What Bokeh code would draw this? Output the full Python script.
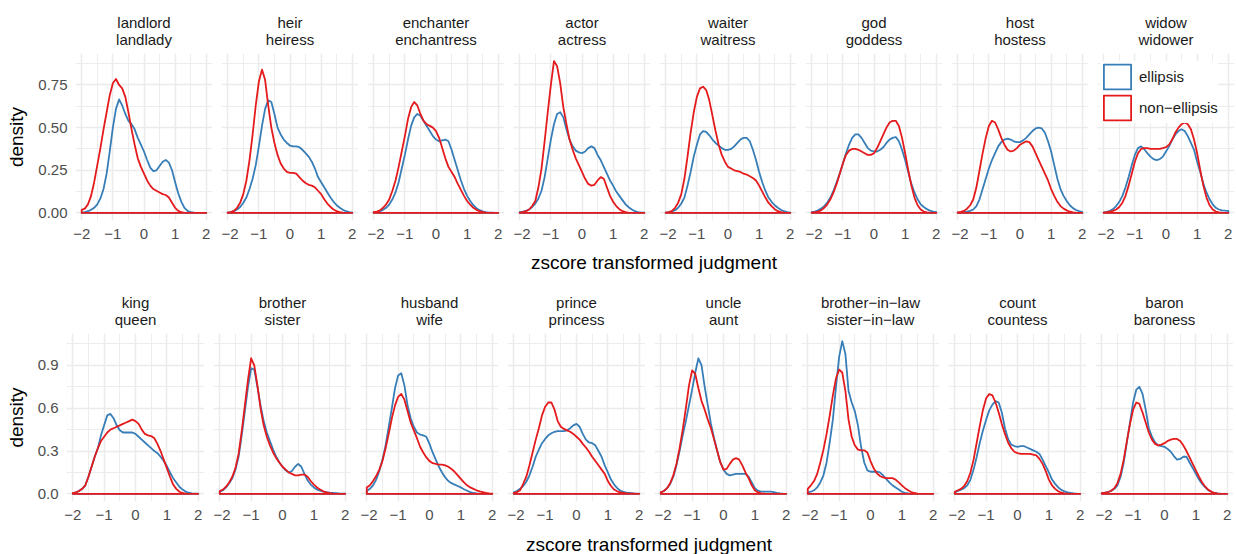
from bokeh.plotting import figure
from bokeh.layouts import row, column
from bokeh.models import Range1d, FixedTicker, Title, Legend, LegendItem, Div, Spacer
from bokeh.embed import file_html
from bokeh.resources import INLINE

FONT = "Liberation Sans"
BLUE = "#377EB8"
RED = "#E41A1C"
GRID = "#EBEBEB"

# ---------------- data ----------------
x_grid = [-2.0, -1.9, -1.8, -1.7, -1.6, -1.5, -1.4, -1.3, -1.2, -1.1,
          -1.0, -0.9, -0.8, -0.7, -0.6, -0.5, -0.4, -0.3, -0.2, -0.1,
          0.0, 0.1, 0.2, 0.3, 0.4, 0.5, 0.6, 0.7, 0.8, 0.9,
          1.0, 1.1, 1.2, 1.3, 1.4, 1.5, 1.6, 1.7, 1.8, 1.9, 2.0]
x_ticks = [-2, -1, 0, 1, 2]
x_tick_labels = ["\u22122", "\u22121", "0", "1", "2"]
x_minor = [-1.5, -0.5, 0.5, 1.5]

row1_ticks = [0, 0.25, 0.5, 0.75]
row1_tick_labels = ["0.00", "0.25", "0.50", "0.75"]
row1_minor = [0.125, 0.375, 0.625, 0.875]
row2_ticks = [0, 0.3, 0.6, 0.9]
row2_tick_labels = ["0.0", "0.3", "0.6", "0.9"]
row2_minor = [0.15, 0.45, 0.75, 1.05]

groups = ["ellipsis", "non\u2212ellipsis"]

row1_titles = [("landlord", "landlady"), ("heir", "heiress"), ("enchanter", "enchantress"),
               ("actor", "actress"), ("waiter", "waitress"), ("god", "goddess"),
               ("host", "hostess"), ("widow", "widower")]
row2_titles = [("king", "queen"), ("brother", "sister"), ("husband", "wife"),
               ("prince", "princess"), ("uncle", "aunt"),
               ("brother\u2212in\u2212law", "sister\u2212in\u2212law"),
               ("count", "countess"), ("baron", "baroness")]

landlord_ellipsis = [0.003, 0.005, 0.01, 0.018, 0.03, 0.05, 0.085, 0.14, 0.23, 0.36,
                     0.50, 0.61, 0.665, 0.63, 0.58, 0.54, 0.52, 0.49, 0.44, 0.40,
                     0.36, 0.31, 0.265, 0.245, 0.25, 0.275, 0.30, 0.31, 0.295, 0.25,
                     0.18, 0.115, 0.065, 0.03, 0.012, 0.004, 0.001, 0, 0, 0, 0]
landlord_non_ellipsis = [0.018, 0.025, 0.05, 0.10, 0.18, 0.28, 0.38, 0.49, 0.59, 0.69,
                         0.76, 0.785, 0.75, 0.73, 0.68, 0.59, 0.49, 0.40, 0.32, 0.27,
                         0.23, 0.19, 0.16, 0.14, 0.13, 0.12, 0.11, 0.105, 0.09, 0.06,
                         0.03, 0.012, 0.004, 0, 0, 0, 0, 0, 0, 0, 0]
heir_ellipsis = [0.002, 0.004, 0.01, 0.02, 0.035, 0.06, 0.09, 0.14, 0.2, 0.28,
                 0.39, 0.51, 0.61, 0.66, 0.65, 0.58, 0.50, 0.46, 0.43, 0.41,
                 0.395, 0.39, 0.39, 0.385, 0.37, 0.35, 0.33, 0.30, 0.26, 0.21,
                 0.18, 0.15, 0.12, 0.09, 0.065, 0.045, 0.03, 0.018, 0.01, 0.005, 0.002]
heir_non_ellipsis = [0.002, 0.005, 0.012, 0.03, 0.06, 0.11, 0.19, 0.31, 0.46, 0.63,
                     0.77, 0.84, 0.78, 0.63, 0.50, 0.41, 0.34, 0.29, 0.26, 0.24,
                     0.235, 0.235, 0.23, 0.21, 0.19, 0.175, 0.165, 0.16, 0.15, 0.13,
                     0.11, 0.08, 0.055, 0.035, 0.02, 0.01, 0.005, 0.002, 0, 0, 0]
enchanter_ellipsis = [0.004, 0.006, 0.01, 0.018, 0.03, 0.05, 0.08, 0.12, 0.18, 0.26,
                      0.34, 0.43, 0.51, 0.56, 0.58, 0.57, 0.54, 0.51, 0.48, 0.45,
                      0.43, 0.42, 0.425, 0.43, 0.42, 0.37, 0.31, 0.25, 0.19, 0.14,
                      0.10, 0.07, 0.045, 0.028, 0.016, 0.009, 0.005, 0.002, 0.001, 0, 0]
enchanter_non_ellipsis = [0.004, 0.008, 0.015, 0.03, 0.05, 0.08, 0.13, 0.19, 0.27, 0.36,
                          0.45, 0.55, 0.62, 0.65, 0.63, 0.58, 0.54, 0.52, 0.51, 0.50,
                          0.48, 0.44, 0.38, 0.32, 0.27, 0.24, 0.21, 0.17, 0.135, 0.10,
                          0.07, 0.048, 0.03, 0.018, 0.01, 0.005, 0.002, 0, 0, 0, 0]
actor_ellipsis = [0.004, 0.007, 0.012, 0.02, 0.035, 0.055, 0.085, 0.13, 0.21, 0.32,
                  0.43, 0.52, 0.58, 0.59, 0.56, 0.49, 0.43, 0.39, 0.365, 0.355,
                  0.35, 0.36, 0.38, 0.39, 0.38, 0.34, 0.31, 0.27, 0.23, 0.19,
                  0.16, 0.125, 0.10, 0.075, 0.05, 0.033, 0.02, 0.01, 0.005, 0.002, 0.001]
actor_non_ellipsis = [0.002, 0.004, 0.01, 0.02, 0.04, 0.07, 0.15, 0.26, 0.42, 0.59,
                      0.75, 0.89, 0.86, 0.76, 0.62, 0.52, 0.43, 0.37, 0.32, 0.28,
                      0.24, 0.20, 0.17, 0.16, 0.165, 0.19, 0.21, 0.20, 0.15, 0.10,
                      0.065, 0.04, 0.022, 0.01, 0.004, 0, 0, 0, 0, 0, 0]
waiter_ellipsis = [0.002, 0.004, 0.008, 0.016, 0.03, 0.055, 0.09, 0.16, 0.24, 0.33,
                   0.40, 0.46, 0.48, 0.475, 0.455, 0.43, 0.41, 0.395, 0.38, 0.37,
                   0.37, 0.375, 0.39, 0.41, 0.43, 0.44, 0.44, 0.42, 0.37, 0.31,
                   0.24, 0.18, 0.13, 0.09, 0.065, 0.045, 0.03, 0.018, 0.01, 0.005, 0.002]
waiter_non_ellipsis = [0.002, 0.005, 0.012, 0.03, 0.06, 0.11, 0.2, 0.33, 0.47, 0.59,
                       0.68, 0.73, 0.74, 0.72, 0.66, 0.57, 0.48, 0.40, 0.34, 0.30,
                       0.27, 0.26, 0.25, 0.245, 0.24, 0.23, 0.225, 0.215, 0.205, 0.19,
                       0.16, 0.125, 0.09, 0.06, 0.04, 0.022, 0.01, 0.005, 0.002, 0, 0]
god_ellipsis = [0.004, 0.008, 0.015, 0.025, 0.04, 0.06, 0.09, 0.13, 0.18, 0.23,
                0.29, 0.35, 0.40, 0.44, 0.46, 0.46, 0.44, 0.41, 0.38, 0.365,
                0.36, 0.36, 0.37, 0.385, 0.41, 0.43, 0.44, 0.445, 0.42, 0.37,
                0.31, 0.24, 0.17, 0.12, 0.08, 0.05, 0.035, 0.022, 0.013, 0.008, 0.004]
god_non_ellipsis = [0.002, 0.004, 0.008, 0.015, 0.03, 0.05, 0.08, 0.12, 0.17, 0.23,
                    0.29, 0.34, 0.365, 0.375, 0.375, 0.37, 0.36, 0.35, 0.34, 0.34,
                    0.35, 0.38, 0.42, 0.46, 0.50, 0.53, 0.54, 0.54, 0.51, 0.44,
                    0.35, 0.25, 0.16, 0.09, 0.045, 0.02, 0.008, 0.003, 0.001, 0, 0]
host_ellipsis = [0.001, 0.002, 0.004, 0.007, 0.012, 0.02, 0.04, 0.08, 0.14, 0.20,
                 0.26, 0.31, 0.35, 0.39, 0.415, 0.43, 0.435, 0.43, 0.42, 0.415,
                 0.415, 0.425, 0.44, 0.46, 0.48, 0.495, 0.50, 0.495, 0.47, 0.42,
                 0.36, 0.28, 0.20, 0.14, 0.10, 0.07, 0.045, 0.028, 0.017, 0.01, 0.005]
host_non_ellipsis = [0.003, 0.006, 0.012, 0.025, 0.045, 0.08, 0.15, 0.25, 0.35, 0.44,
                     0.51, 0.54, 0.53, 0.49, 0.44, 0.40, 0.37, 0.36, 0.365, 0.38,
                     0.40, 0.41, 0.42, 0.415, 0.39, 0.35, 0.31, 0.27, 0.23, 0.19,
                     0.14, 0.10, 0.065, 0.04, 0.025, 0.015, 0.007, 0.003, 0.001, 0, 0]
widow_ellipsis = [0.003, 0.006, 0.012, 0.022, 0.04, 0.065, 0.10, 0.15, 0.21, 0.28,
                  0.34, 0.38, 0.39, 0.375, 0.35, 0.33, 0.315, 0.31, 0.315, 0.33,
                  0.36, 0.39, 0.43, 0.46, 0.48, 0.49, 0.48, 0.45, 0.41, 0.37,
                  0.30, 0.24, 0.17, 0.12, 0.08, 0.05, 0.03, 0.02, 0.015, 0.013, 0.012]
widow_non_ellipsis = [0.002, 0.004, 0.007, 0.012, 0.02, 0.035, 0.06, 0.10, 0.16, 0.23,
                      0.30, 0.35, 0.375, 0.38, 0.38, 0.375, 0.375, 0.375, 0.375, 0.38,
                      0.385, 0.40, 0.43, 0.47, 0.50, 0.52, 0.53, 0.52, 0.49, 0.43,
                      0.35, 0.25, 0.16, 0.09, 0.045, 0.02, 0.008, 0.003, 0.001, 0, 0]

king_ellipsis = [0.005, 0.01, 0.02, 0.035, 0.06, 0.12, 0.19, 0.26, 0.32, 0.41,
                 0.48, 0.55, 0.56, 0.53, 0.48, 0.445, 0.43, 0.43, 0.43, 0.43,
                 0.42, 0.40, 0.38, 0.36, 0.34, 0.32, 0.30, 0.285, 0.26, 0.23,
                 0.195, 0.15, 0.11, 0.08, 0.05, 0.03, 0.016, 0.008, 0.004, 0.002, 0.001]
king_non_ellipsis = [0.005, 0.01, 0.02, 0.035, 0.06, 0.12, 0.19, 0.26, 0.32, 0.37,
                     0.40, 0.43, 0.45, 0.46, 0.47, 0.48, 0.49, 0.50, 0.51, 0.52,
                     0.51, 0.49, 0.45, 0.42, 0.41, 0.405, 0.39, 0.35, 0.30, 0.24,
                     0.18, 0.12, 0.065, 0.035, 0.015, 0.006, 0.002, 0, 0, 0, 0]
brother_ellipsis = [0.015, 0.025, 0.045, 0.075, 0.11, 0.17, 0.26, 0.41, 0.58, 0.75,
                    0.88, 0.87, 0.75, 0.62, 0.51, 0.43, 0.37, 0.31, 0.26, 0.22,
                    0.19, 0.165, 0.15, 0.16, 0.19, 0.21, 0.19, 0.14, 0.095, 0.065,
                    0.045, 0.03, 0.022, 0.016, 0.012, 0.009, 0.007, 0.005, 0.003, 0.002, 0.001]
brother_non_ellipsis = [0.02, 0.03, 0.05, 0.08, 0.12, 0.18, 0.28, 0.44, 0.62, 0.80,
                        0.95, 0.90, 0.76, 0.60, 0.48, 0.40, 0.34, 0.29, 0.25, 0.22,
                        0.19, 0.17, 0.15, 0.14, 0.13, 0.13, 0.135, 0.135, 0.12, 0.09,
                        0.065, 0.045, 0.03, 0.018, 0.01, 0.005, 0.002, 0, 0, 0, 0]
husband_ellipsis = [0.02, 0.035, 0.06, 0.10, 0.16, 0.24, 0.34, 0.47, 0.60, 0.74,
                    0.83, 0.845, 0.76, 0.62, 0.53, 0.47, 0.43, 0.415, 0.41, 0.40,
                    0.35, 0.29, 0.24, 0.19, 0.15, 0.115, 0.09, 0.075, 0.065, 0.055,
                    0.045, 0.032, 0.022, 0.012, 0.006, 0.003, 0.001, 0, 0, 0, 0]
husband_non_ellipsis = [0.045, 0.06, 0.09, 0.125, 0.17, 0.23, 0.32, 0.42, 0.53, 0.62,
                        0.68, 0.70, 0.66, 0.58, 0.50, 0.445, 0.39, 0.33, 0.29, 0.255,
                        0.23, 0.215, 0.21, 0.205, 0.205, 0.20, 0.19, 0.175, 0.155, 0.13,
                        0.105, 0.08, 0.06, 0.045, 0.035, 0.025, 0.018, 0.012, 0.007, 0.004, 0.002]
prince_ellipsis = [0.01, 0.02, 0.035, 0.055, 0.085, 0.13, 0.19, 0.26, 0.31, 0.355,
                   0.385, 0.41, 0.425, 0.435, 0.44, 0.44, 0.44, 0.445, 0.46, 0.48,
                   0.49, 0.47, 0.42, 0.38, 0.36, 0.355, 0.34, 0.30, 0.26, 0.20,
                   0.15, 0.10, 0.065, 0.04, 0.022, 0.014, 0.009, 0.006, 0.004, 0.002, 0.001]
prince_non_ellipsis = [0.005, 0.012, 0.025, 0.07, 0.12, 0.2, 0.29, 0.38, 0.46, 0.55,
                       0.61, 0.64, 0.64, 0.59, 0.51, 0.47, 0.455, 0.445, 0.435, 0.42,
                       0.40, 0.38, 0.35, 0.325, 0.295, 0.26, 0.23, 0.20, 0.17, 0.14,
                       0.09, 0.055, 0.03, 0.018, 0.01, 0.006, 0.003, 0.002, 0.001, 0, 0]
uncle_ellipsis = [0.01, 0.02, 0.04, 0.07, 0.12, 0.20, 0.30, 0.41, 0.51, 0.62,
                  0.73, 0.85, 0.95, 0.90, 0.75, 0.62, 0.49, 0.39, 0.30, 0.22,
                  0.17, 0.14, 0.13, 0.135, 0.14, 0.14, 0.14, 0.14, 0.12, 0.08,
                  0.04, 0.022, 0.016, 0.015, 0.015, 0.015, 0.012, 0.007, 0.003, 0.001, 0]
uncle_non_ellipsis = [0.01, 0.02, 0.04, 0.075, 0.13, 0.21, 0.32, 0.45, 0.60, 0.76,
                      0.865, 0.84, 0.74, 0.65, 0.59, 0.52, 0.46, 0.38, 0.30, 0.22,
                      0.17, 0.175, 0.21, 0.24, 0.25, 0.24, 0.20, 0.15, 0.11, 0.06,
                      0.025, 0.01, 0.004, 0.001, 0, 0, 0, 0, 0, 0, 0]
brother_in_law_ellipsis = [0.01, 0.015, 0.025, 0.045, 0.08, 0.13, 0.22, 0.36, 0.52, 0.75,
                           0.96, 1.07, 0.98, 0.72, 0.64, 0.58, 0.48, 0.33, 0.22, 0.165,
                           0.155, 0.155, 0.155, 0.15, 0.13, 0.105, 0.08, 0.06, 0.045, 0.03,
                           0.015, 0.007, 0.003, 0.001, 0, 0, 0, 0, 0, 0, 0]
brother_in_law_non_ellipsis = [0.035, 0.06, 0.09, 0.14, 0.22, 0.31, 0.42, 0.55, 0.69, 0.81,
                               0.87, 0.85, 0.72, 0.52, 0.40, 0.34, 0.31, 0.305, 0.305, 0.29,
                               0.23, 0.18, 0.145, 0.125, 0.115, 0.11, 0.11, 0.11, 0.10, 0.08,
                               0.06, 0.04, 0.025, 0.013, 0.006, 0.002, 0, 0, 0, 0, 0]
count_ellipsis = [0.01, 0.02, 0.03, 0.04, 0.06, 0.10, 0.17, 0.26, 0.36, 0.445,
                  0.52, 0.585, 0.625, 0.65, 0.64, 0.57, 0.46, 0.385, 0.345, 0.335,
                  0.33, 0.335, 0.335, 0.325, 0.315, 0.305, 0.295, 0.28, 0.24, 0.195,
                  0.15, 0.10, 0.07, 0.045, 0.028, 0.017, 0.01, 0.006, 0.003, 0.001, 0]
count_non_ellipsis = [0.015, 0.025, 0.035, 0.055, 0.09, 0.15, 0.24, 0.36, 0.48, 0.59,
                      0.67, 0.70, 0.69, 0.64, 0.57, 0.49, 0.42, 0.36, 0.32, 0.295,
                      0.285, 0.28, 0.28, 0.28, 0.28, 0.275, 0.27, 0.245, 0.21, 0.16,
                      0.10, 0.06, 0.035, 0.018, 0.008, 0.003, 0.001, 0, 0, 0, 0]
baron_ellipsis = [0.005, 0.008, 0.012, 0.02, 0.035, 0.06, 0.12, 0.22, 0.36, 0.50,
                  0.64, 0.73, 0.75, 0.70, 0.59, 0.46, 0.40, 0.36, 0.34, 0.335,
                  0.33, 0.315, 0.295, 0.265, 0.24, 0.245, 0.26, 0.26, 0.22, 0.18,
                  0.14, 0.10, 0.07, 0.045, 0.025, 0.013, 0.006, 0.003, 0.001, 0, 0]
baron_non_ellipsis = [0.005, 0.008, 0.013, 0.022, 0.04, 0.075, 0.14, 0.24, 0.37, 0.49,
                      0.59, 0.64, 0.63, 0.57, 0.50, 0.43, 0.38, 0.35, 0.34, 0.345,
                      0.355, 0.37, 0.38, 0.385, 0.385, 0.37, 0.34, 0.30, 0.255, 0.21,
                      0.165, 0.12, 0.08, 0.05, 0.028, 0.014, 0.006, 0.002, 0, 0, 0]

row1_ellipsis = [landlord_ellipsis, heir_ellipsis, enchanter_ellipsis, actor_ellipsis,
                 waiter_ellipsis, god_ellipsis, host_ellipsis, widow_ellipsis]
row1_non_ellipsis = [landlord_non_ellipsis, heir_non_ellipsis, enchanter_non_ellipsis,
                     actor_non_ellipsis, waiter_non_ellipsis, god_non_ellipsis,
                     host_non_ellipsis, widow_non_ellipsis]
row2_ellipsis = [king_ellipsis, brother_ellipsis, husband_ellipsis, prince_ellipsis,
                 uncle_ellipsis, brother_in_law_ellipsis, count_ellipsis, baron_ellipsis]
row2_non_ellipsis = [king_non_ellipsis, brother_non_ellipsis, husband_non_ellipsis,
                     prince_non_ellipsis, uncle_non_ellipsis, brother_in_law_non_ellipsis,
                     count_non_ellipsis, baron_non_ellipsis]


def pad(vals):
    vals = list(vals)[:len(x_grid)]
    return vals + [0.0] * (len(x_grid) - len(vals))


def strip_title(text, standoff):
    return Title(text=text, align="center", text_font=FONT, text_font_size="15px",
                 text_font_style="normal",
                 text_color="#1A1A1A", standoff=standoff, offset=0)


def make_panel(titles, ell, non, y_max, y_ticks, y_labels, y_minor, first,
               frame_w, frame_h, left_border, legend=False):
    xspan = x_grid[-1] - x_grid[0]
    p = figure(frame_width=frame_w, frame_height=frame_h,
               x_range=Range1d(x_grid[0] - 0.05 * xspan, x_grid[-1] + 0.05 * xspan),
               y_range=Range1d(-0.05 * y_max, 1.05 * y_max),
               output_backend="svg", toolbar_location=None, title=None,
               y_axis_location="left" if first else None,
               min_border_left=left_border if first else 0, min_border_right=0,
               min_border_top=53, min_border_bottom=28)
    p.outline_line_color = None
    p.background_fill_color = "white"
    p.border_fill_color = "white"

    p.xgrid.ticker = FixedTicker(ticks=x_ticks, minor_ticks=x_minor)
    p.ygrid.ticker = FixedTicker(ticks=y_ticks, minor_ticks=y_minor)
    for g in p.xgrid + p.ygrid:
        g.grid_line_color = GRID
        g.grid_line_width = 1.5
        g.minor_grid_line_color = GRID
        g.minor_grid_line_width = 0.9

    xs = [x_grid[0]] + x_grid + [x_grid[-1]]
    r_e = p.patch(xs, [0] + pad(ell) + [0], fill_color=None, line_color=BLUE,
                  line_width=1.8, line_join="round")
    r_n = p.patch(xs, [0] + pad(non) + [0], fill_color=None, line_color=RED,
                  line_width=1.8, line_join="round")

    p.add_layout(strip_title(titles[1], 11), "above")
    p.add_layout(strip_title(titles[0], -15), "above")

    xa = p.xaxis[0]
    xa.ticker = FixedTicker(ticks=x_ticks)
    xa.major_label_overrides = dict(zip(x_ticks, x_tick_labels))
    if first:
        ya = p.yaxis[0]
        ya.ticker = FixedTicker(ticks=y_ticks)
        ya.major_label_overrides = dict(zip(y_ticks, y_labels))
        ya.axis_label = "density"
        ya.axis_label_text_font = FONT
        ya.axis_label_text_font_size = "19px"
        ya.axis_label_text_font_style = "normal"
        ya.axis_label_text_color = "#000000"
        ya.axis_label_standoff = 8
    for ax in p.axis:
        ax.axis_line_color = None
        ax.major_tick_line_color = None
        ax.minor_tick_line_color = None
        ax.major_tick_out = 0
        ax.major_tick_in = 0
        ax.minor_tick_out = 0
        ax.minor_tick_in = 0
        ax.major_label_text_font = FONT
        ax.major_label_text_font_size = "15px"
        ax.major_label_text_color = "#4D4D4D"
        ax.major_label_standoff = 8

    if legend:
        lg = Legend(items=[LegendItem(label=groups[0], renderers=[r_e]),
                           LegendItem(label=groups[1], renderers=[r_n])],
                    location=(3, 97), padding=2, spacing=0, margin=0,
                    glyph_width=34, glyph_height=31, label_standoff=5,
                    label_text_font=FONT, label_text_font_size="15px",
                    label_text_color="#1A1A1A",
                    background_fill_color="white", background_fill_alpha=1.0,
                    border_line_color=None)
        p.add_layout(lg)
    return p


def make_row(titles, ells, nons, y_ticks, y_labels, y_minor, frame_w, frame_h, left_border,
             legend_panel=None):
    y_max = max(max(v) for v in ells + nons)
    figs = []
    for i in range(len(titles)):
        figs.append(make_panel(titles[i], ells[i], nons[i], y_max, y_ticks, y_labels, y_minor,
                               i == 0, frame_w, frame_h, left_border,
                               legend=(i == legend_panel)))
    return row(*figs, spacing=9)


def x_title(center, height, line_h):
    w = 600
    d = Div(text="zscore transformed judgment", width=w, height=height, margin=0,
            styles={"font-family": FONT, "font-size": "19px", "color": "#000000",
                    "text-align": "center", "line-height": f"{line_h}px",
                    "white-space": "nowrap"})
    return row(Spacer(width=int(center - w / 2), height=height, margin=0), d)


r1 = make_row(row1_titles, row1_ellipsis, row1_non_ellipsis, row1_ticks, row1_tick_labels,
              row1_minor, 137, 167, 75, legend_panel=7)
t1 = x_title(75 + (8 * 137 + 7 * 9) / 2, 32, 30)
r2 = make_row(row2_titles, row2_ellipsis, row2_non_ellipsis, row2_ticks, row2_tick_labels,
              row2_minor, 138, 168, 66)
t2 = x_title(66 + (8 * 138 + 7 * 9) / 2, 25, 31)

layout = column(r1, t1, r2, t2, spacing=0)
open("out.html", "w").write(file_html(layout, INLINE))
